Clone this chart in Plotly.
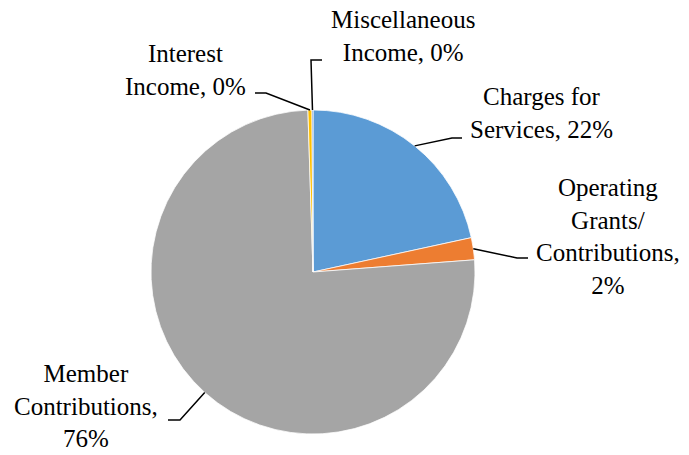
import math
import plotly.graph_objects as go

labels = ["Charges for Services", "Operating Grants/ Contributions", "Member Contributions",
          "Interest Income", "Miscellaneous Income"]
values = [21.6, 2.2, 75.7, 0.4, 0.1]
label_text = ["Charges for<br>Services, 22%", "Operating<br>Grants/<br>Contributions,<br>2%",
              "Member<br>Contributions,<br>76%", "Interest<br>Income, 0%", "Miscellaneous<br>Income, 0%"]
colors = ["#5B9BD5", "#ED7D31", "#A5A5A5", "#FFC000", "#4472C4"]

W, H = 689, 455
cx, cy, R = 313, 272, 162

# label block centres (pixels) and leader elbow / end points (pixels)
label_pos = [(541, 113), (608, 236), (86, 406), (185, 70), (403, 36)]
elbows = [((452, 138), (462, 138)), ((517, 258), (528, 258)), ((180, 420), (168, 420)),
          ((266, 93), (255, 93)), ((311, 60), (322, 60))]

fig = go.Figure(go.Pie(
    labels=labels, values=values, sort=False, direction="clockwise", rotation=0,
    marker=dict(colors=colors, line=dict(color="white", width=0.75)),
    textinfo="none", hoverinfo="label+percent",
    domain=dict(x=[(cx - R) / W, (cx + R) / W], y=[(H - cy - R) / H, (H - cy + R) / H]),
))

def px(x):
    return x / W

def py(y):
    return 1 - y / H

total = sum(values)
cum = 0
shapes = []
annotations = []
for i, v in enumerate(values):
    mid = (cum + v / 2) / total * 2 * math.pi
    cum += v
    sx = cx + R * math.sin(mid)
    sy = cy - R * math.cos(mid)
    (ex, ey), (hx, hy) = elbows[i]
    path = f"M {px(sx)} {py(sy)} L {px(ex)} {py(ey)} L {px(hx)} {py(hy)}"
    shapes.append(dict(type="path", xref="paper", yref="paper", path=path,
                       line=dict(color="black", width=1.5)))
    lx, ly = label_pos[i]
    annotations.append(dict(x=px(lx), y=py(ly), xref="paper", yref="paper",
                            text=label_text[i], showarrow=False, xanchor="center",
                            yanchor="middle", align="center",
                            font=dict(family="Liberation Serif", size=25, color="black")))

fig.update_layout(
    width=W, height=H, margin=dict(l=0, r=0, t=0, b=0),
    showlegend=False, paper_bgcolor="white", plot_bgcolor="white",
    shapes=shapes, annotations=annotations,
)
fig.write_html("out.html", config={"displayModeBar": False},
               post_script="document.body.style.margin='0';document.body.style.padding='0';")
